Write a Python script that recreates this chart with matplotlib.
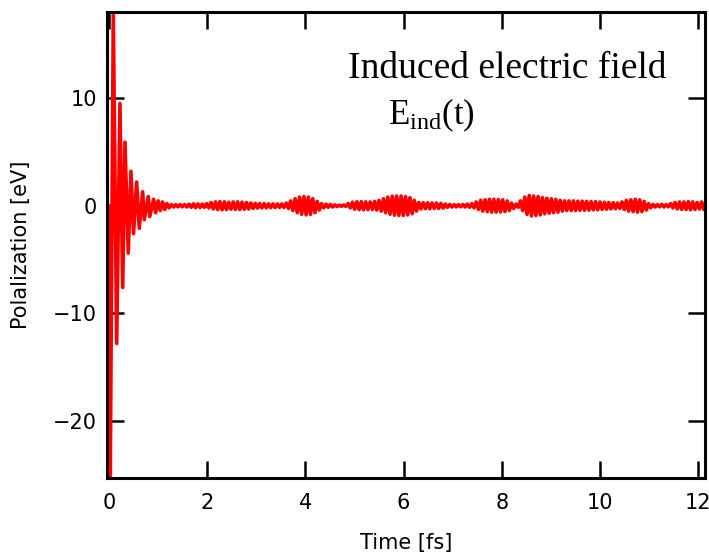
import matplotlib
matplotlib.use("Agg")
import matplotlib.pyplot as plt
import numpy as np

# early ringing: extrema (time in fs, value in eV)
early_t = [0.0, 0.027, 0.088, 0.157, 0.224, 0.28, 0.326, 0.393, 0.448, 0.50,
           0.564, 0.617, 0.686, 0.72, 0.80, 0.83, 0.91, 0.95]
early_v = [0.0, -25.1, 17.9, -12.8, 9.5, -7.6, 5.9, -4.4, 3.2, -2.6,
           2.2, -2.1, 1.3, -1.3, 0.85, -1.0, 0.6, -0.65]

# later part: amplitude of each cycle, starting at t0 with period `period`
t0 = 1.0
period = 0.09
late_amp = [0.45, 0.35, 0.2, 0.12, 0.1, 0.1, 0.12, 0.15, 0.18, 0.17,
            0.15, 0.2, 0.3, 0.36, 0.38, 0.36, 0.32, 0.35, 0.36, 0.33,
            0.3, 0.25, 0.22, 0.2, 0.2, 0.18, 0.17, 0.16, 0.17, 0.25,
            0.45, 0.65, 0.8, 0.85, 0.8, 0.65, 0.4, 0.2, 0.15, 0.12,
            0.08, 0.05, 0.06, 0.2, 0.32, 0.37, 0.38, 0.36, 0.35, 0.4,
            0.5, 0.65, 0.8, 0.88, 0.9, 0.9, 0.85, 0.75, 0.5, 0.3,
            0.28, 0.28, 0.26, 0.25, 0.22, 0.15, 0.12, 0.1, 0.1, 0.12,
            0.15, 0.2, 0.35, 0.5, 0.55, 0.6, 0.6, 0.58, 0.55, 0.45,
            0.25, 0.15, 0.45, 0.8, 0.95, 0.9, 0.85, 0.75, 0.7, 0.65,
            0.6, 0.5, 0.45, 0.45, 0.45, 0.42, 0.42, 0.4, 0.38, 0.38,
            0.35, 0.32, 0.3, 0.28, 0.25, 0.35, 0.5, 0.55, 0.6, 0.55,
            0.4, 0.2, 0.12, 0.1, 0.12, 0.1, 0.2, 0.3, 0.35, 0.35,
            0.38, 0.35, 0.3, 0.35, 0.4]

xticks = [0, 2, 4, 6, 8, 10, 12]
yticks = [-20, -10, 0, 10]

t = list(early_t)
v = list(early_v)
for k, a in enumerate(late_amp):
    tk = t0 + period * k
    t += [tk, tk + period / 2]
    v += [a, -a]

plt.rcParams['mathtext.fontset'] = 'custom'
plt.rcParams['mathtext.rm'] = 'Liberation Serif'

fig = plt.figure(figsize=(7.09, 5.56), dpi=100)
ax = fig.add_axes([107/709, 1-478/556, (705-107)/709, (478-12)/556])
ax.plot(t, v, color='#ff0000', lw=2.6)

ax.set_xlim(-0.04, 12.14)
ax.set_ylim(-25.3, 18.0)
ax.set_xticks(xticks)
ax.set_yticks(yticks)
ax.tick_params(direction='in', length=12, width=1.8, top=True, right=True,
               labelsize=15)
ax.tick_params(axis='x', pad=11)
ax.tick_params(axis='y', pad=7)
for s in ax.spines.values():
    s.set_linewidth(2.2)

ax.set_xlabel('Time [fs]', fontsize=15, labelpad=14)
ax.set_ylabel('Polalization [eV]', fontsize=15, labelpad=16)

fig.text(348/709, 1-78/556, 'Induced electric field', family='Liberation Serif',
         fontsize=27, va='baseline')
fig.text(388/709, 1-124/556, r'$\mathrm{E_{ind}(t)}$', fontsize=25, va='baseline')

fig.savefig('out.png', dpi=100)
